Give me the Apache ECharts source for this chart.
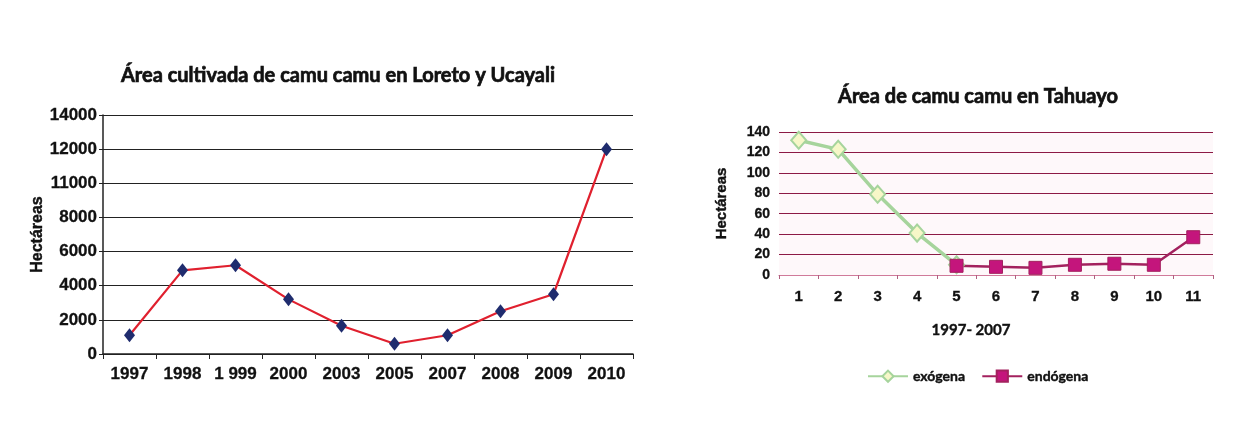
<!DOCTYPE html>
<html>
<head>
<meta charset="utf-8">
<script src="https://cdn.jsdelivr.net/npm/echarts@6/dist/echarts.min.js"></script>
<style>
html,body{margin:0;padding:0;background:#fff;}
#c{width:1244px;height:441px;}
</style>
</head>
<body>
<div id="c"></div>
<script>
// Left chart data
const leftTitle = 'Área cultivada de camu camu en Loreto y Ucayali';
const leftCategories = ['1997', '1998', '1 999', '2000', '2003', '2005', '2007', '2008', '2009', '2010'];
const leftValues = [1100, 4900, 5200, 3200, 1650, 600, 1100, 2500, 3500, 12000];
const leftYTickLabels = ['0', '2000', '4000', '6000', '8000', '11000', '12000', '14000'];

// Right chart data
const rightTitle = 'Área de camu camu en Tahuayo';
const rightCategories = ['1', '2', '3', '4', '5', '6', '7', '8', '9', '10', '11'];
const exogena = [132, 123, 79, 41, 10, null, null, null, null, null, null];
const endogena = [null, null, null, null, 9, 8, 7, 10, 11, 10, 37];
const rightXName = '1997- 2007';
const yName = 'Hectáreas';

const chart = echarts.init(document.getElementById('c'), null, {renderer: 'canvas'});
const titleFont = 'Lato';
const axisFont = 'Liberation Sans';
const heavy = {textBorderColor: '#111', textBorderWidth: 0.7};

chart.setOption({
  backgroundColor: '#ffffff',
  animation: false,
  title: [
    {text: leftTitle, left: 333, top: 61, textAlign: 'center',
     textStyle: Object.assign({fontFamily: titleFont, fontWeight: 'bold', fontSize: 20, color: '#111'}, heavy)},
    {text: rightTitle, left: 973, top: 82, textAlign: 'center',
     textStyle: Object.assign({fontFamily: titleFont, fontWeight: 'bold', fontSize: 20, color: '#111'}, heavy)}
  ],
  legend: {
    left: 862, top: 364,
    itemWidth: 40, itemHeight: 14, itemGap: 16,
    data: ['exógena', 'endógena'],
    textStyle: Object.assign({fontFamily: titleFont, fontWeight: 'bold', fontSize: 14, color: '#111'}, {textBorderColor: '#111', textBorderWidth: 0.4})
  },
  grid: [
    {left: 103, right: 611, top: 115, bottom: 87},
    {left: 779, right: 31, top: 132, bottom: 166, show: true, backgroundColor: '#fef8fa', borderWidth: 0}
  ],
  xAxis: [
    {
      type: 'category', gridIndex: 0, data: leftCategories, boundaryGap: true,
      axisLine: {lineStyle: {color: '#222', width: 1.5}},
      axisTick: {show: true, length: 5, lineStyle: {color: '#222'}},
      axisLabel: Object.assign({margin: 12, fontFamily: axisFont, fontWeight: 'bold', fontSize: 17, color: '#111', interval: 0}, {textBorderColor: '#111', textBorderWidth: 0.3})
    },
    {
      type: 'category', gridIndex: 1, data: rightCategories, boundaryGap: true,
      axisLine: {lineStyle: {color: '#d07a9a', width: 1.2}},
      axisTick: {show: true, length: 4, lineStyle: {color: '#b06080'}},
      axisLabel: Object.assign({margin: 14, fontFamily: axisFont, fontWeight: 'bold', fontSize: 15, color: '#111', interval: 0}, {textBorderColor: '#111', textBorderWidth: 0.3}),
      name: rightXName, nameLocation: 'middle', nameGap: 48,
      nameTextStyle: Object.assign({fontFamily: titleFont, fontWeight: 'bold', fontSize: 15, color: '#111', padding: [0, 50, 0, 0]}, {textBorderColor: '#111', textBorderWidth: 0.4})
    }
  ],
  yAxis: [
    {
      type: 'value', gridIndex: 0, min: 0, max: 14000, interval: 2000,
      axisLine: {show: true, lineStyle: {color: '#222', width: 1.5}},
      axisTick: {show: true, length: 4, lineStyle: {color: '#222'}},
      splitLine: {show: true, lineStyle: {color: '#222', width: 1}},
      axisLabel: Object.assign({margin: 6, fontFamily: axisFont, fontWeight: 'bold', fontSize: 17, color: '#111',
        formatter: function (v) { return leftYTickLabels[Math.round(v / 2000)]; }}, {textBorderColor: '#111', textBorderWidth: 0.3}),
      name: yName, nameLocation: 'middle', nameGap: 56, nameRotate: 90,
      nameTextStyle: Object.assign({fontFamily: axisFont, fontWeight: 'bold', fontSize: 16, color: '#111'}, {textBorderColor: '#111', textBorderWidth: 0.4})
    },
    {
      type: 'value', gridIndex: 1, min: 0, max: 140, interval: 20,
      axisLine: {show: false},
      axisTick: {show: false},
      splitLine: {show: true, lineStyle: {color: '#8c1a45', width: 1.2}},
      axisLabel: Object.assign({margin: 9, fontFamily: axisFont, fontWeight: 'bold', fontSize: 14, color: '#111'}, {textBorderColor: '#111', textBorderWidth: 0.3}),
      name: yName, nameLocation: 'middle', nameGap: 50, nameRotate: 90,
      nameTextStyle: Object.assign({fontFamily: axisFont, fontWeight: 'bold', fontSize: 15, color: '#111'}, {textBorderColor: '#111', textBorderWidth: 0.4})
    }
  ],
  series: [
    {
      name: 'Área', type: 'line', xAxisIndex: 0, yAxisIndex: 0, data: leftValues,
      lineStyle: {color: '#e0202e', width: 2.2},
      symbol: 'diamond', symbolSize: [11, 14],
      itemStyle: {color: '#1f2c6e'}
    },
    {
      name: 'exógena', type: 'line', xAxisIndex: 1, yAxisIndex: 1, data: exogena,
      lineStyle: {color: '#a6d49c', width: 3.5},
      symbol: 'diamond', symbolSize: [15, 17],
      itemStyle: {color: '#f7f7c8', borderColor: '#a6d49c', borderWidth: 2}
    },
    {
      name: 'endógena', type: 'line', xAxisIndex: 1, yAxisIndex: 1, data: endogena,
      lineStyle: {color: '#a3215e', width: 2.5},
      symbol: 'rect', symbolSize: 13,
      itemStyle: {color: '#c4157c', borderColor: '#a3215e', borderWidth: 1}
    }
  ]
});
</script>
</body>
</html>
